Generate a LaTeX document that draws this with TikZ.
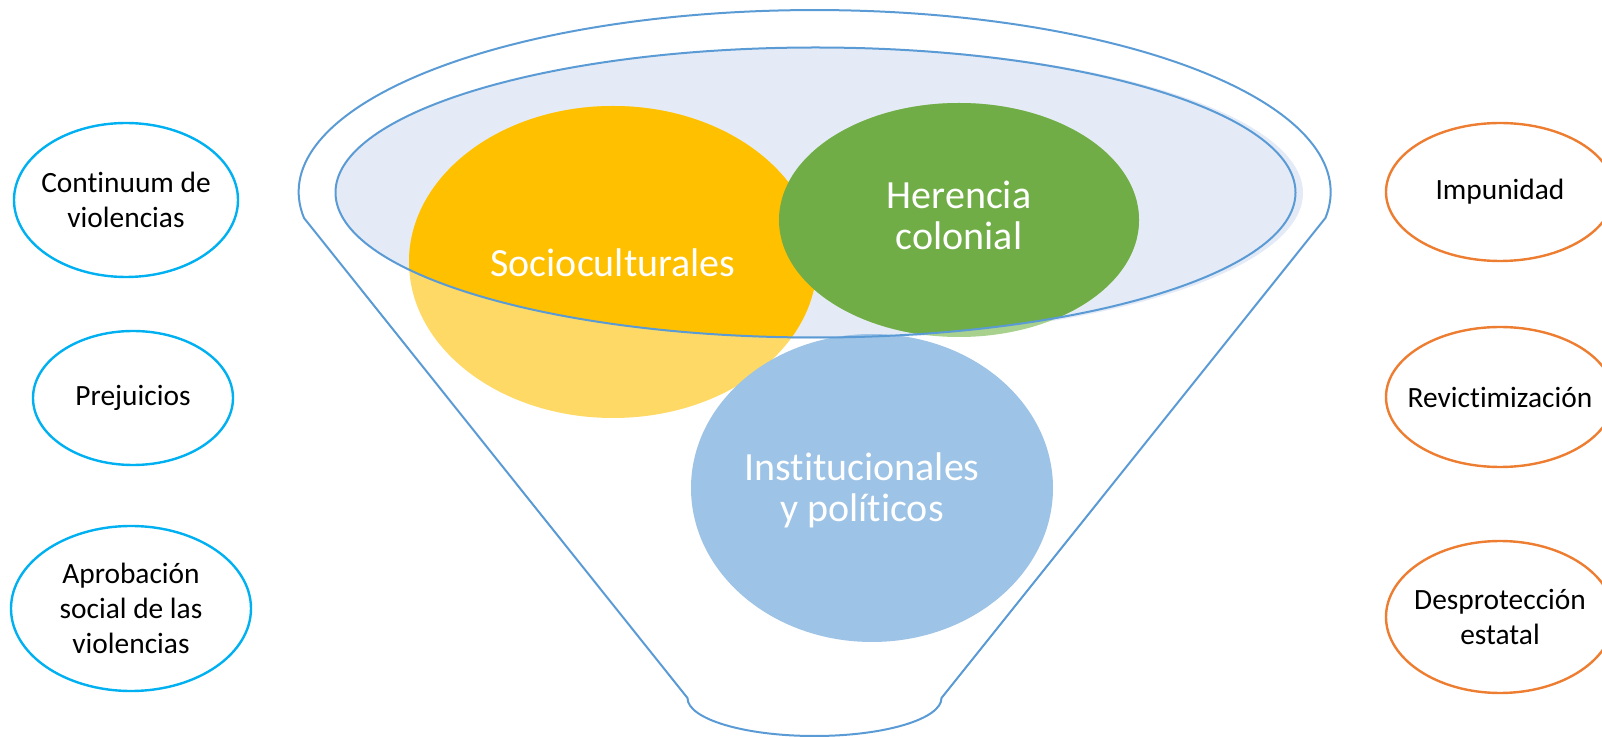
\documentclass[tikz,border=0pt]{standalone}
\usepackage{fontspec}
\setmainfont{Carlito}[Ligatures=NoCommon]
\usepackage{tikz}
\usetikzlibrary{shapes,positioning,calc}
\definecolor{funnelline}{HTML}{5B9BD5}
\definecolor{mouthfill}{HTML}{E4EBF6}
\definecolor{socio}{HTML}{FFC000}
\definecolor{sociolight}{HTML}{FFD966}
\definecolor{herencia}{HTML}{70AD47}
\definecolor{herencialight}{HTML}{A9D18E}
\definecolor{instit}{HTML}{9DC3E6}
\definecolor{causecyan}{HTML}{00B0F0}
\definecolor{effectorange}{HTML}{ED7D31}

\begin{document}
\begin{tikzpicture}[x=0.5pt,y=-0.5pt,line join=round,
			font=\fontsize{14.7}{17.3}\selectfont]
			\tikzstyle{cause}=[ellipse,draw=causecyan,line width=1.2pt,inner sep=0pt]
			\tikzstyle{effect}=[ellipse,draw=effectorange,line width=1.2pt,inner sep=0pt]
			\tikzstyle{label}=[align=center,inner sep=0pt]
			\tikzstyle{factor}=[text=white,align=center,font=\fontsize{20}{20.5}\selectfont]
			
			\clip (0,0) rectangle (1602,737);
			
			% mouth of the funnel
			\fill[mouthfill] (819,193) ellipse[x radius=242pt, y radius=73pt];
			
			% the three groups of factors
			\fill[sociolight] (613,262) ellipse[x radius=102pt, y radius=78pt];
			\fill[herencialight] (959,220) ellipse[x radius=90pt, y radius=58.5pt];
			\begin{scope}
			\clip (815.5,192.5) ellipse[x radius=240pt, y radius=72.5pt];
			\fill[socio] (613,262) ellipse[x radius=102pt, y radius=78pt];
			\fill[herencia] (959,220) ellipse[x radius=90pt, y radius=58.5pt];
			\end{scope}
			\fill[instit] (872,488) ellipse[x radius=90.5pt, y radius=77pt];
			
			\draw[funnelline,line width=1pt] (815.5,192.5) ellipse[x radius=240pt, y radius=72.5pt];
			
			% funnel outline
			\coordinate (TL) at (304,218);
			\coordinate (TR) at (1325,218);
			\coordinate (BL) at (687.5,698);
			\coordinate (BR) at (941.5,698);
			\draw[funnelline,line width=1pt] (TL)
			arc[start angle=188.2, end angle=-8.2, x radius=258pt, y radius=91pt]
			-- (BR)
			arc[start angle=0, end angle=-180, x radius=63.5pt, y radius=19pt]
			-- cycle;
			
			\node[factor] (S) at (613,263) {Socioculturales};
			\node[factor] (H) at (959,215) {Herencia\\colonial};
			\node[factor] (I) at (862,490) {Institucionales\\y políticos};
			
			% causes
			\node[cause, minimum width=112pt, minimum height=77pt] (C1) at (126,200) {};
			\node[cause, minimum width=100pt, minimum height=67pt] (C2) at (133,398) {};
			\node[cause, minimum width=120pt, minimum height=82.5pt] (C3) at (131,608.5) {};
			\node[label] (C1t) at (C1) {Continuum de\\violencias};
			\node[label] (C2t) at (C2) {Prejuicios};
			\node[label] (C3t) at (C3) {Aprobación\\social de las\\violencias};
			
			% effects
			\node[effect, minimum width=114pt, minimum height=69pt] (E1) at (1500,192) {};
			\node[effect, minimum width=114pt, minimum height=70pt] (E2) at (1500,397) {};
			\node[effect, minimum width=114pt, minimum height=76pt] (E3) at (1500,617) {};
			\node[label] (E1t) at (E1) {Impunidad};
			\node[label] (E2t) at (E2) {Revictimización};
			\node[label] (E3t) at (E3) {Desprotección\\estatal};
			\end{tikzpicture}
\end{document}
